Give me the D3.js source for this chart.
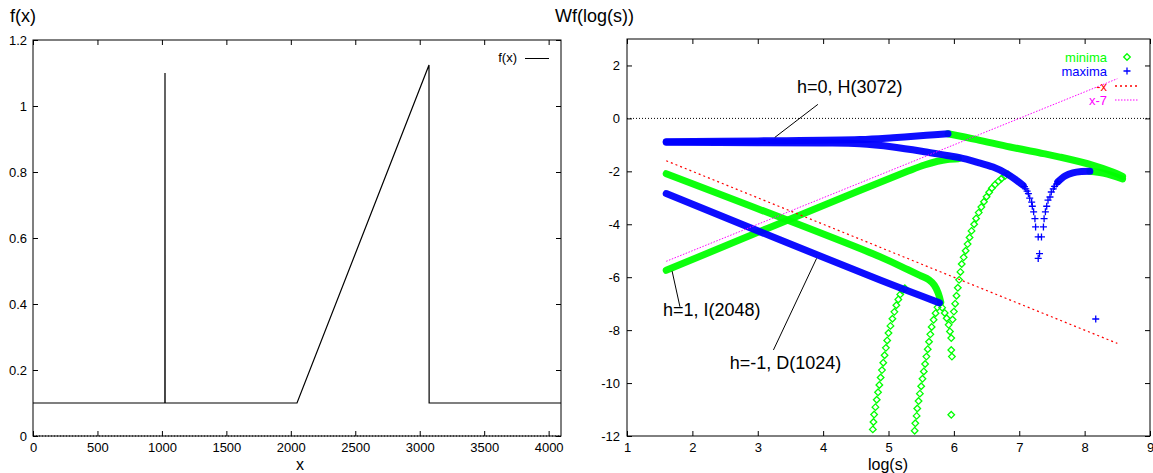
<!DOCTYPE html>
<meta charset="utf-8">
<style>
body { margin: 0; background: #fff; }
svg { font-family: "Liberation Sans", Arial, sans-serif; }
</style>
<body>
<svg width="1153" height="473"></svg>
<script src="https://d3js.org/d3.v7.min.js"></script>
<script>

// ---- left panel : the test signal f(x)
var fxX = [0, 1023, 1024, 1025, 2048, 3072, 3073, 4096];
var fxY = [0.1, 0.1, 1.1, 0.1, 0.1, 1.124, 0.1, 0.1];
var leftXTicks = [0, 500, 1000, 1500, 2000, 2500, 3000, 3500, 4000];
var leftYTicks = [0, 0.2, 0.4, 0.6, 0.8, 1, 1.2];

// ---- right panel : modulus maxima lines, [log(s), Wf]
// dense parts (drawn as bands)
var maxTop   = [[1.6,-0.88],[3.0,-0.85],[4.56,-0.80],[5.07,-0.73],[5.58,-0.64],[5.91,-0.58]];
var maxMid   = [[1.6,-0.9],[3.0,-0.92],[4.0,-0.93],[4.56,-0.96],[5.07,-1.08],[5.58,-1.27],[5.89,-1.40],[6.09,-1.48],[6.35,-1.65],[6.60,-1.84],[6.81,-2.09],[6.96,-2.34],[7.06,-2.53]];
var maxRight = [[7.59,-2.40],[7.70,-2.18],[7.82,-2.06],[7.95,-2.01],[8.08,-2.0]];
var maxD     = [[1.6,-2.84],[4.87,-6.11],[5.78,-6.97]];
var minTop   = [[5.91,-0.58],[6.35,-0.80],[6.86,-1.08],[7.37,-1.33],[7.62,-1.46],[8.13,-1.77],[8.44,-2.03],[8.58,-2.19]];
var minRight = [[8.08,-2.0],[8.3,-2.08],[8.58,-2.29]];
var minI     = [[1.6,-5.74],[4.56,-2.72],[5.3,-1.99],[5.55,-1.76],[5.75,-1.62],[5.9,-1.55],[6.07,-1.52]];
var minD     = [[1.6,-2.09],[4.87,-5.23],[5.3,-5.72],[5.48,-5.93],[5.62,-6.1],[5.70,-6.3],[5.76,-6.6],[5.80,-6.95]];

// sparse parts (single markers)
var minFingerL = [[4.76,-11.75],[4.77,-11.47],[4.78,-11.19],[4.80,-10.91],[4.82,-10.63],[4.84,-10.35],[4.86,-10.07],[4.88,-9.79],[4.90,-9.51],[4.92,-9.23],[4.94,-8.95],[4.96,-8.67],[4.98,-8.39],[5.00,-8.11],[5.03,-7.84],[5.06,-7.57],[5.09,-7.31],[5.12,-7.06],[5.15,-6.84],[5.18,-6.65],[5.21,-6.50],[5.25,-6.42]];
var minFingerR = [[5.40,-11.80],[5.41,-11.52],[5.43,-11.24],[5.44,-10.96],[5.46,-10.68],[5.48,-10.40],[5.50,-10.12],[5.52,-9.84],[5.54,-9.56],[5.56,-9.28],[5.58,-9.00],[5.60,-8.72],[5.62,-8.44],[5.64,-8.16],[5.66,-7.88],[5.69,-7.61],[5.72,-7.36],[5.75,-7.14]];
var minArc = [[5.98,-7.6],[6.00,-7.3],[6.02,-7.0],[6.04,-6.7],[6.06,-6.4],[6.08,-6.1],[6.10,-5.8],[6.12,-5.5],[6.15,-5.25],[6.18,-5.0],[6.21,-4.75],[6.24,-4.5],[6.27,-4.25],[6.31,-4.0],[6.34,-3.78],[6.38,-3.56],[6.42,-3.35],[6.46,-3.15],[6.50,-2.96],[6.54,-2.79],[6.58,-2.64],[6.63,-2.50],[6.68,-2.38],[6.73,-2.27],[6.78,-2.18],[6.83,-2.12]];
var minTail = [[5.82,-7.15],[5.86,-7.35],[5.89,-7.55],[5.92,-7.8],[5.94,-8.05],[5.96,-8.3],[5.96,-8.75],[5.97,-9.0],[5.96,-11.2]];
var maxDipL = [[7.08,-2.58],[7.10,-2.66],[7.12,-2.75],[7.14,-2.84],[7.16,-3.01],[7.19,-3.16],[7.20,-3.32],[7.22,-3.53],[7.24,-3.79],[7.25,-4.10],[7.29,-4.48],[7.31,-5.11],[7.29,-5.29]];
var maxDipR = [[7.34,-4.48],[7.37,-4.10],[7.38,-3.79],[7.40,-3.53],[7.42,-3.32],[7.44,-3.09],[7.47,-2.97],[7.49,-2.78],[7.52,-2.66],[7.54,-2.57],[7.57,-2.48],[7.59,-2.40],[8.17,-7.58]];

// reference slopes, plotted over [1.6, 8.5]
var refS = [1.6, 8.5];
var rightXTicks = [1, 2, 3, 4, 5, 6, 7, 8, 9];
var rightYTicks = [-12, -10, -8, -6, -4, -2, 0, 2];

// annotations: text, text position, leader from / to (data coords)
var notes = [
  {t: "h=0, H(3072)",  at: [3.60, 0.95],  from: [3.92, 0.53],  to: [3.26, -0.72]},
  {t: "h=1, I(2048)",  at: [1.55, -7.47], from: [1.69, -5.77], to: [1.81, -7.12]},
  {t: "h=-1, D(1024)", at: [2.57, -9.47], from: [3.90, -5.29], to: [3.24, -8.75]}
];

var svg = d3.select("svg");
var font = "Liberation Sans, Arial, sans-serif";
var bigFont = 18;

var green = "#00ff00", blue = "#0000ff";

function frame(x, y, xt, yt, padY) {
  var x0 = x.range()[0], x1 = x.range()[1], y0 = y.range()[0], y1 = y.range()[1];
  var g = svg.append("g");
  // zero axis (dotted)
  g.append("line").attr("x1", x0).attr("x2", x1).attr("y1", y(0)).attr("y2", y(0))
    .attr("stroke", "#000").attr("stroke-dasharray", "1,2");
  var plain = function(d) { return String(d); };
  var ax = [
    [d3.axisBottom(x).tickValues(xt).tickSize(-5).tickPadding(6.5).tickFormat(plain), y0, 0],
    [d3.axisTop(x).tickValues(xt).tickSize(-5).tickFormat(""), y1, 0],
    [d3.axisLeft(y).tickValues(yt).tickSize(-5).tickPadding(padY).tickFormat(plain), 0, x0],
    [d3.axisRight(y).tickValues(yt).tickSize(-5).tickFormat(""), 0, x1]
  ];
  ax.forEach(function(a) {
    var s = g.append("g").attr("transform", "translate(" + a[2] + "," + a[1] + ")").call(a[0]);
    s.attr("font-family", font).attr("font-size", 13);
    s.select(".domain").remove();
  });
  g.append("rect").attr("x", x0).attr("y", y1).attr("width", x1 - x0).attr("height", y0 - y1)
    .attr("fill", "none").attr("stroke", "#000");
}

// ---------- left panel ----------
var xl = d3.scaleLinear().domain([0, 4096]).range([33, 561]);
var yl = d3.scaleLinear().domain([0, 1.2]).range([436, 40]);
frame(xl, yl, leftXTicks, leftYTicks, 6);

svg.append("path")
  .attr("d", d3.line().x(function(d) { return xl(d); }).y(function(d, i) { return yl(fxY[i]); })(fxX))
  .attr("fill", "none").attr("stroke", "#000").attr("stroke-width", 1.2);

svg.append("text").attr("x", 10).attr("y", 22).attr("font-size", bigFont).text("f(x)");
svg.append("text").attr("x", 300).attr("y", 469.5).attr("font-size", 16).attr("text-anchor", "middle").text("x");
svg.append("text").attr("x", 517).attr("y", 62).attr("font-size", 13).attr("text-anchor", "end").text("f(x)");
svg.append("line").attr("x1", 525).attr("x2", 549).attr("y1", 58.5).attr("y2", 58.5).attr("stroke", "#000");

// ---------- right panel ----------
var xr = d3.scaleLinear().domain([1, 9]).range([627, 1150]);
var yr = d3.scaleLinear().domain([-12, 3]).range([436, 39]);
frame(xr, yr, rightXTicks, rightYTicks, 7);

svg.append("text").attr("x", 555).attr("y", 22).attr("font-size", bigFont).text("Wf(log(s))");
svg.append("text").attr("x", 888).attr("y", 469.5).attr("font-size", 16).attr("text-anchor", "middle").text("log(s)");

var band = d3.line().x(function(d) { return xr(d[0]); }).y(function(d) { return yr(d[1]); })
  .curve(d3.curveCatmullRom);

var plot = svg.append("g");

function drawBand(data, col) {
  plot.append("path").attr("d", band(data)).attr("fill", "none")
    .attr("stroke", col).attr("stroke-width", 7).attr("stroke-linecap", "round")
    .attr("stroke-linejoin", "round").attr("stroke-opacity", 0.95);
}
var diamond = "M0,-3.3L3.3,0L0,3.3L-3.3,0Z";
var plus = "M-3.5,0H3.5M0,-3.5V3.5";
function drawMarks(data, col, shape) {
  plot.append("g").selectAll("path").data(data).enter().append("path")
    .attr("transform", function(d) { return "translate(" + xr(d[0]) + "," + yr(d[1]) + ")"; })
    .attr("d", shape).attr("fill", "none").attr("stroke", col).attr("stroke-width", 1.3);
}

// minima first, maxima on top
[minI, minD, minTop, minRight].forEach(function(d) { drawBand(d, green); });
[minFingerL, minFingerR, minArc, minTail].forEach(function(d) { drawMarks(d, green, diamond); });
[maxTop, maxMid, maxRight, maxD].forEach(function(d) { drawBand(d, blue); });
[maxDipL, maxDipR].forEach(function(d) { drawMarks(d, blue, plus); });

// -x and x-7
plot.append("path").attr("d", band(refS.map(function(s) { return [s, -s]; })))
  .attr("fill", "none").attr("stroke", "#ff0000").attr("stroke-width", 1.2).attr("stroke-dasharray", "2,3");
plot.append("path").attr("d", band(refS.map(function(s) { return [s, s - 7]; })))
  .attr("fill", "none").attr("stroke", "#ff00ff").attr("stroke-width", 1).attr("stroke-dasharray", "1.5,1.5");

// annotations
notes.forEach(function(n) {
  svg.append("text").attr("x", xr(n.at[0])).attr("y", yr(n.at[1])).attr("font-size", bigFont).text(n.t);
  svg.append("line").attr("x1", xr(n.from[0])).attr("y1", yr(n.from[1]))
    .attr("x2", xr(n.to[0])).attr("y2", yr(n.to[1])).attr("stroke", "#000");
});

// legend
var key = svg.append("g").attr("font-size", 13).attr("text-anchor", "end");
var keyY = [57, 71, 86, 100];
key.append("text").attr("x", 1107).attr("y", keyY[0] + 4.5).attr("fill", green).text("minima");
key.append("path").attr("transform", "translate(1127," + keyY[0] + ")").attr("d", diamond)
  .attr("fill", "none").attr("stroke", green).attr("stroke-width", 1.3);
key.append("text").attr("x", 1107).attr("y", keyY[1] + 4.5).attr("fill", blue).text("maxima");
key.append("path").attr("transform", "translate(1127," + keyY[1] + ")").attr("d", plus)
  .attr("fill", "none").attr("stroke", blue).attr("stroke-width", 1.3);
key.append("text").attr("x", 1107).attr("y", keyY[2] + 4.5).attr("fill", "#ff0000").text("-x");
key.append("line").attr("x1", 1115).attr("x2", 1139).attr("y1", keyY[2]).attr("y2", keyY[2])
  .attr("stroke", "#ff0000").attr("stroke-width", 1.5).attr("stroke-dasharray", "2,3");
key.append("text").attr("x", 1107).attr("y", keyY[3] + 4.5).attr("fill", "#ff00ff").text("x-7");
key.append("line").attr("x1", 1115).attr("x2", 1139).attr("y1", keyY[3]).attr("y2", keyY[3])
  .attr("stroke", "#ff00ff").attr("stroke-width", 1.2).attr("stroke-dasharray", "1.5,1.5");

</script>
</body>
